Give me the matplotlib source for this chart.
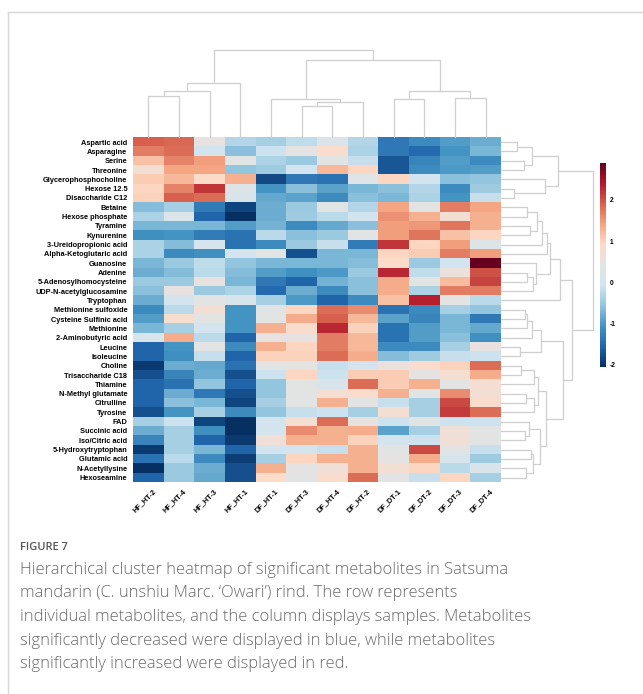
import matplotlib
matplotlib.use("Agg")
import matplotlib.pyplot as plt
from matplotlib.colors import LinearSegmentedColormap
from matplotlib.lines import Line2D
import numpy as np

plt.rcParams['axes.unicode_minus'] = False

# --- data ---
samples = ['HF_HT-2', 'HF_HT-4', 'HF_HT-3', 'HF_HT-1', 'DF_HT-1', 'DF_HT-3',
           'DF_HT-4', 'DF_HT-2', 'DF_DT-1', 'DF_DT-2', 'DF_DT-3', 'DF_DT-4']

metabolites = ['Aspartic acid', 'Asparagine', 'Serine', 'Threonine',
               'Glycerophosphocholine', 'Hexose 12.5', 'Disaccharide C12',
               'Betaine', 'Hexose phosphate', 'Tyramine', 'Kynurenine',
               '3-Ureidopropionic acid', 'Alpha-Ketoglutaric acid', 'Guanosine',
               'Adenine', '5-Adenosylhomocysteine', 'UDP-N-acetylglucosamine',
               'Tryptophan', 'Methionine sulfoxide', 'Cysteine Sulfinic acid',
               'Methionine', '2-Aminobutyric acid', 'Leucine', 'Isoleucine',
               'Choline', 'Trisaccharide C18', 'Thiamine', 'N-Methyl glutamate',
               'Citrulline', 'Tyrosine', 'FAD', 'Succinic acid', 'Iso/Citric acid',
               '5-Hydroxytryptophan', 'Glutamic acid', 'N-Acetyllysine', 'Hexoseamine']

zscores = [
    [1.9, 1.85, 0.5, -0.3, -0.4, -0.2, 0.2, -0.3, -1.35, -1.15, -0.95, -0.8],
    [1.7, 1.8, 0.0, -0.6, -0.1, 0.45, 0.85, -0.35, -1.35, -1.5, -1.05, -0.7],
    [1.15, 1.65, 1.45, 0.4, -0.35, -0.5, 0.4, -0.15, -1.7, -1.2, -0.95, -1.15],
    [0.7, 1.4, 1.4, -0.55, -0.45, -0.05, 1.25, 0.95, -1.7, -1.15, -1.0, -0.95],
    [1.05, 1.25, 0.9, 1.3, -1.8, -1.35, -1.4, 0.3, 0.95, -0.05, -0.6, -0.55],
    [0.95, 1.65, 2.2, 0.25, -1.05, -0.6, -0.9, -0.7, -0.6, -0.3, -1.15, -0.45],
    [1.0, 1.9, 1.8, 0.15, -0.85, -0.9, -1.15, -0.6, -0.7, -0.35, -1.05, -0.15],
    [-0.65, -0.4, -1.3, -1.85, -0.8, -0.5, 0.35, -0.3, 1.4, 0.4, 1.7, 1.4],
    [-0.35, 0.2, -1.55, -2.05, -0.8, -0.45, -0.25, -0.05, 1.55, 1.3, 0.7, 1.3],
    [-0.7, -0.7, -0.7, -0.95, -0.75, -1.15, -0.85, -0.6, 1.45, 1.5, 1.75, 1.3],
    [-1.1, -1.05, -1.3, -1.4, -0.25, -0.6, -0.5, 0.4, 1.45, 1.75, 1.15, 0.95],
    [-0.35, -0.65, 0.05, -1.4, -1.15, -0.5, -0.15, -1.3, 2.2, 0.95, 1.45, 0.25],
    [-0.35, -1.15, -1.1, 0.0, 0.4, -1.75, -0.7, -0.7, 0.95, 1.05, 1.7, 1.45],
    [-0.7, -0.5, -0.2, -0.55, -0.7, -0.7, -0.7, -0.65, 0.9, -0.5, -0.05, 2.9],
    [-0.8, -0.65, -0.25, -0.65, -0.95, -1.1, -1.0, -0.5, 2.3, -0.2, 0.55, 2.0],
    [-0.5, -0.5, 0.5, -0.7, -1.35, -1.55, -0.75, -0.6, 1.35, 0.4, 1.2, 2.1],
    [-0.6, 0.5, -0.5, -0.35, -1.5, -0.8, -1.15, -0.6, 1.35, -0.35, 1.7, 1.7],
    [-0.8, 0.0, 0.4, 0.1, -0.4, -1.0, -1.55, -1.15, 1.15, 2.35, 0.4, -0.25],
    [-1.15, -0.25, 0.7, -1.05, 0.35, 0.95, 1.8, 1.6, -1.4, -1.15, -0.4, -0.55],
    [-0.95, 0.8, 0.4, -1.05, 0.4, 1.35, 1.9, 1.25, -0.9, -1.2, -0.7, -1.35],
    [-0.7, -0.4, 0.0, -1.05, 1.3, 0.85, 2.3, 1.0, -1.4, -0.95, -0.7, -0.85],
    [0.1, 1.35, -0.25, -1.55, 0.5, 0.5, 1.7, 1.25, -1.4, -0.95, -0.6, -1.1],
    [-1.55, -1.05, 0.4, -1.15, 1.3, 0.95, 1.7, 1.25, -1.15, -1.15, -0.4, 0.5],
    [-1.55, -1.1, -0.15, -1.55, 1.0, 1.0, 1.8, 1.35, -0.65, -0.45, -0.15, -0.1],
    [-1.95, -0.8, -0.85, -1.4, 0.4, 0.45, -0.15, 0.0, 0.55, 0.85, 1.0, 1.8],
    [-1.75, -1.2, -0.8, -1.75, -0.1, 0.95, -0.1, 1.05, 1.05, 0.45, 0.75, 1.35],
    [-1.55, -1.4, -0.55, -1.55, -0.55, 0.4, 0.1, 1.8, 1.05, 1.3, 0.4, 0.75],
    [-1.55, -0.8, -1.35, -1.75, -0.55, 0.4, 0.75, 0.85, 1.3, 0.35, 1.6, 0.7],
    [-1.55, -0.6, -0.7, -1.85, -0.4, 0.4, 1.3, 0.4, -0.15, -0.4, 2.05, 0.85],
    [-1.75, -1.05, -0.4, -1.15, -0.55, -0.15, -0.1, -0.4, 0.7, -0.4, 2.15, 1.8],
    [-0.4, -0.1, -1.85, -2.05, 0.0, 0.75, 1.8, 0.5, -0.1, 0.4, -0.1, -0.1],
    [-0.8, -0.4, -1.1, -2.05, 0.0, 1.6, 1.3, 1.35, -0.9, -0.4, 0.65, 0.4],
    [-1.2, -0.4, -1.55, -1.95, 0.65, 1.3, 1.3, 1.0, 0.0, -0.1, 0.65, 0.4],
    [-1.95, -0.4, -0.7, -1.55, 0.0, 0.0, -0.15, 1.3, 0.4, 2.05, 0.4, -0.15],
    [-1.4, -0.25, -1.15, -1.9, -0.4, 0.95, 1.3, 1.3, 0.45, 1.35, 0.1, -0.45],
    [-2.05, -0.5, -0.8, -1.75, 1.3, 0.45, 0.65, 1.3, 0.7, 0.95, -0.25, 0.1],
    [-1.55, -0.5, -0.85, -1.75, 0.9, 0.4, 0.85, 1.8, 0.4, -0.15, 0.95, -0.4],
]

# linkage-style merges (child a, child b, height); ids >= n are earlier merges
col_merges = [(0, 1, 41.2), (12, 2, 46.2), (13, 3, 54.8), (5, 6, 31.2),
              (15, 7, 35.2), (4, 16, 38.2), (8, 9, 38.2), (10, 11, 39.2),
              (18, 19, 46.2), (17, 20, 77.2), (14, 21, 87.2)]

row_merges = [(0, 1, 15.7), (2, 3, 23.3), (37, 38, 31.3), (5, 6, 13.3),
              (4, 40, 43.7), (39, 41, 57.3), (7, 8, 25.7), (9, 10, 28.7),
              (43, 44, 35.7), (45, 11, 41.3), (46, 12, 46.3), (14, 15, 26.3),
              (48, 16, 32.3), (13, 49, 35.3), (47, 50, 48.7), (51, 17, 58.7),
              (18, 19, 24.3), (53, 20, 26.0), (54, 21, 31.3), (22, 23, 19.3),
              (55, 56, 39.7), (24, 25, 20.3), (58, 26, 33.0), (27, 28, 25.3),
              (60, 29, 32.7), (59, 61, 37.0), (31, 32, 23.7), (30, 63, 28.0),
              (33, 34, 29.7), (35, 36, 24.7), (65, 66, 31.7), (64, 67, 39.0),
              (62, 68, 45.3), (57, 69, 62.0), (52, 70, 71.0), (42, 71, 91.7)]


def draw_dendro(ax, merges, n, vertical):
    pos = {i: i + 0.5 for i in range(n)}
    hgt = {i: 0.0 for i in range(n)}
    for k, (a, b, h) in enumerate(merges):
        xs = [pos[a], pos[a], pos[b], pos[b]]
        ys = [hgt[a], h, h, hgt[b]]
        if vertical:
            ax.plot(xs, ys, color='#cfcfcf', lw=0.9, clip_on=False)
        else:
            ax.plot(ys, xs, color='#cfcfcf', lw=0.9, clip_on=False)
        pos[n + k] = (pos[a] + pos[b]) / 2
        hgt[n + k] = h


W, H = 643, 694
fig = plt.figure(figsize=(W / 100, H / 100), dpi=100)


def px_axes(x0, y0, x1, y1):
    return fig.add_axes([x0 / W, 1 - y1 / H, (x1 - x0) / W, (y1 - y0) / H])


# colormap close to RdBu_r with a greyish middle
cmap = LinearSegmentedColormap.from_list('rdbu_grey', [
    '#053061', '#2166ac', '#4393c3', '#92c5de', '#d1e5f0', '#e4e4e4',
    '#fddbc7', '#f4a582', '#d6604d', '#b2182b', '#67001f'])

lab_font = dict(fontsize=5.3, fontweight='bold', family='Liberation Sans')

data = np.array(zscores)
hm_x0, hm_x1, hm_y0, hm_y1 = 133, 501, 137.4, 482.2
ax = px_axes(hm_x0, hm_y0, hm_x1, hm_y1)
im = ax.imshow(data, aspect='auto', cmap=cmap, vmin=-2.05, vmax=2.9,
               interpolation='nearest', extent=(0, len(samples), len(metabolites), 0))
ax.set_xlim(0, len(samples))
ax.set_ylim(len(metabolites), 0)
ax.set_yticks(np.arange(len(metabolites)) + 0.5)
ax.set_yticklabels(metabolites, **lab_font)
ax.set_xticks([])
ax.tick_params(axis='y', length=0, pad=4)
for s in ax.spines.values():
    s.set_visible(False)
for i, name in enumerate(samples):
    ax.text(i + 0.62, len(metabolites) + 0.55, name, rotation=45, rotation_mode='anchor',
            ha='right', va='top', **lab_font)

# column dendrogram
axc = px_axes(hm_x0, 50.3, hm_x1, hm_y0)
draw_dendro(axc, col_merges, len(samples), True)
axc.set_xlim(0, len(samples))
axc.set_ylim(0, 87.2)
axc.axis('off')

# row dendrogram
axr = px_axes(hm_x1, hm_y0, 595, hm_y1)
draw_dendro(axr, row_merges, len(metabolites), False)
axr.set_ylim(len(metabolites), 0)
axr.set_xlim(0, 94)
axr.axis('off')

# colorbar
cax = px_axes(599.5, 162.7, 606, 367)
cb = fig.colorbar(im, cax=cax, ticks=[-2, -1, 0, 1, 2])
cb.outline.set_visible(False)
cax.tick_params(length=0, labelsize=4.8, pad=2.5)
for t in cax.get_yticklabels():
    t.set_fontweight('bold')
    t.set_family('Liberation Sans')

# page frame and caption
fig.add_artist(Line2D([8 / W, 8 / W], [0, 1 - 12 / H], transform=fig.transFigure,
                      color='#d6d6d6', lw=1))
fig.add_artist(Line2D([8 / W, 1], [1 - 12 / H, 1 - 12 / H], transform=fig.transFigure,
                      color='#d6d6d6', lw=1))
fig.text(20 / W, 1 - 548 / H, 'FIGURE 7', fontsize=8.0, color='#555555',
         family='Open Sans', fontweight='semibold', va='center')
caption = ["Hierarchical cluster heatmap of significant metabolites in Satsuma",
           "mandarin (C. unshiu Marc. \u2018Owari\u2019) rind. The row represents",
           "individual metabolites, and the column displays samples. Metabolites",
           "significantly decreased were displayed in blue, while metabolites",
           "significantly increased were displayed in red."]
for k, line in enumerate(caption):
    fig.text(20 / W, 1 - (569.5 + 23.7 * k) / H, line, fontsize=11.9, color='#6a6a6a',
             family='Open Sans', fontweight='light', va='center')

fig.savefig('out.png', dpi=100)
